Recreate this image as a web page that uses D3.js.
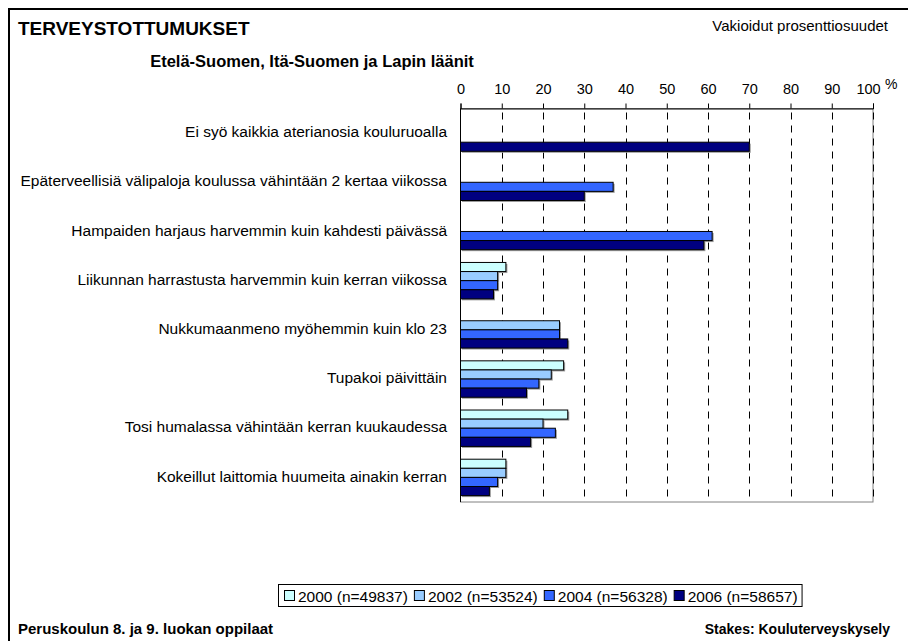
<!DOCTYPE html>
<html>
<head>
<meta charset="utf-8">
<script src="https://cdn.jsdelivr.net/npm/d3@7"></script>
<style>
  body { margin: 0; background: #fff; }
  svg { display: block; font-family: Arial, "Liberation Sans", sans-serif; }
</style>
</head>
<body>
<svg id="chart" width="908" height="641"></svg>
<script>
const categories = [
    'Ei syö kaikkia aterianosia kouluruoalla',
    'Epäterveellisiä välipaloja koulussa vähintään 2 kertaa viikossa',
    'Hampaiden harjaus harvemmin kuin kahdesti päivässä',
    'Liikunnan harrastusta harvemmin kuin kerran viikossa',
    'Nukkumaanmeno myöhemmin kuin klo 23',
    'Tupakoi päivittäin',
    'Tosi humalassa vähintään kerran kuukaudessa',
    'Kokeillut laittomia huumeita ainakin kerran'
]
const seriesNames = ['2000 (n=49837)', '2002 (n=53524)', '2004 (n=56328)', '2006 (n=58657)']
const seriesColors = ['#CCFFFF', '#99CCFF', '#3366FF', '#000080']
// null = not asked that year
const values2000 = [null, null, null, 11, null, 25, 26, 11]
const values2002 = [null, null, null, 9, 24, 22, 20, 11]
const values2004 = [null, 37, 61, 9, 24, 19, 23, 9]
const values2006 = [70, 30, 59, 8, 26, 16, 17, 7]
const xTicks = [0, 10, 20, 30, 40, 50, 60, 70, 80, 90, 100]

const seriesValues = [values2000, values2002, values2004, values2006]

const svg = d3.select('#chart')

// frame (only top and left edges visible)
svg.append('path')
    .attr('d', 'M9,641 L9,9 L908,9')
    .attr('fill', 'none')
    .attr('stroke', '#000')
    .attr('stroke-width', 2)

svg.append('text')
    .attr('x', 18).attr('y', 35)
    .attr('font-size', 19).attr('font-weight', 'bold')
    .text('TERVEYSTOTTUMUKSET')

svg.append('text')
    .attr('x', 888).attr('y', 31)
    .attr('text-anchor', 'end')
    .attr('font-size', 15)
    .text('Vakioidut prosenttiosuudet')

svg.append('text')
    .attr('x', 312).attr('y', 67)
    .attr('text-anchor', 'middle')
    .attr('font-size', 16.5).attr('font-weight', 'bold')
    .text('Etelä-Suomen, Itä-Suomen ja Lapin läänit')

const plot = { left: 460.5, right: 873, top: 108.5, bottom: 502 }

const x = d3.scaleLinear().domain([0, 100]).range([plot.left, plot.right])
const y = d3.scaleBand()
    .domain(categories)
    .range([plot.top, plot.bottom])
    .paddingInner(0.26)
    .paddingOuter(0.13)
const ySeries = d3.scaleBand()
    .domain(d3.range(seriesNames.length))
    .range([0, y.bandwidth()])

// plot area border
svg.append('rect')
    .attr('x', plot.left).attr('y', plot.top)
    .attr('width', plot.right - plot.left).attr('height', plot.bottom - plot.top)
    .attr('fill', 'none')
    .attr('stroke', '#808080')

// dashed gridlines
svg.append('g')
    .selectAll('line')
    .data(xTicks.slice(1))
    .enter()
    .append('line')
    .attr('x1', d => Math.round(x(d)) + 0.5)
    .attr('x2', d => Math.round(x(d)) + 0.5)
    .attr('y1', plot.top + 4)
    .attr('y2', plot.bottom)
    .attr('stroke', '#000')
    .attr('stroke-dasharray', '7,6')

// bars
const groups = svg.append('g')
    .selectAll('g')
    .data(categories)
    .enter()
    .append('g')
    .attr('transform', d => `translate(0,${y(d)})`)

const barData = (c, ci) => seriesValues
    .map((vals, si) => ({ si, v: vals[ci] }))
    .filter(d => d.v !== null)

groups.each(function (c, ci) {
    const g = d3.select(this)
    const items = barData(c, ci)
    g.selectAll('rect.shadow')
        .data(items)
        .enter()
        .append('rect')
        .attr('class', 'shadow')
        .attr('x', x(0) + 1.5)
        .attr('y', d => ySeries(d.si) + 1.5)
        .attr('width', d => x(d.v) - x(0))
        .attr('height', ySeries.bandwidth())
        .attr('fill', '#9a9a9a')
    g.selectAll('rect.bar')
        .data(items)
        .enter()
        .append('rect')
        .attr('class', 'bar')
        .attr('x', x(0))
        .attr('y', d => ySeries(d.si))
        .attr('width', d => x(d.v) - x(0))
        .attr('height', ySeries.bandwidth())
        .attr('fill', d => seriesColors[d.si])
        .attr('stroke', '#000')
        .attr('stroke-width', 1)
})

// top value axis
const xAxis = d3.axisTop(x)
    .tickValues(xTicks)
    .tickSize(5)
    .tickPadding(10)
    .tickFormat(d3.format('d'))
const xAxisG = svg.append('g')
    .attr('transform', `translate(0,${plot.top})`)
    .call(xAxis)
xAxisG.select('.domain').attr('stroke', '#000')
xAxisG.selectAll('.tick line').attr('stroke', '#000')
xAxisG.selectAll('.tick text')
    .attr('font-size', 14.5)
    .attr('font-family', 'Arial, "Liberation Sans", sans-serif')
    .attr('fill', '#000')
xAxisG.selectAll('.tick text')
    .filter(d => d === 100)
    .attr('dx', -5)

svg.append('text')
    .attr('x', 885).attr('y', 89)
    .attr('font-size', 14)
    .text('%')

// category axis
svg.append('line')
    .attr('x1', plot.left).attr('x2', plot.left)
    .attr('y1', plot.top).attr('y2', plot.bottom)
    .attr('stroke', '#000')

svg.append('g')
    .selectAll('text')
    .data(categories)
    .enter()
    .append('text')
    .attr('x', 447)
    .attr('y', d => y(d) + y.bandwidth() / 2)
    .attr('text-anchor', 'end')
    .attr('dominant-baseline', 'middle')
    .attr('font-size', 15.5)
    .text(d => d)

// legend
const legend = svg.append('g')
const legendBox = legend.append('rect')
    .attr('fill', '#fff')
    .attr('stroke', '#000')
let lx = 284
seriesNames.forEach((name, i) => {
    legend.append('rect')
        .attr('x', lx + 0.5).attr('y', 590.5)
        .attr('width', 10).attr('height', 10)
        .attr('fill', seriesColors[i])
        .attr('stroke', '#000')
    const t = legend.append('text')
        .attr('x', lx + 14).attr('y', 601.5)
        .attr('font-size', 15.5)
        .text(name)
    lx += 14 + t.node().getComputedTextLength() + 6
})
legendBox
    .attr('x', 278.5).attr('y', 584.5)
    .attr('width', lx - 278 - 2).attr('height', 22)

svg.append('text')
    .attr('x', 18).attr('y', 634)
    .attr('font-size', 15).attr('font-weight', 'bold')
    .text('Peruskoulun 8. ja 9. luokan oppilaat')

svg.append('text')
    .attr('x', 890).attr('y', 634)
    .attr('text-anchor', 'end')
    .attr('font-size', 14).attr('font-weight', 'bold')
    .text('Stakes: Kouluterveyskysely')
</script>
</body>
</html>
